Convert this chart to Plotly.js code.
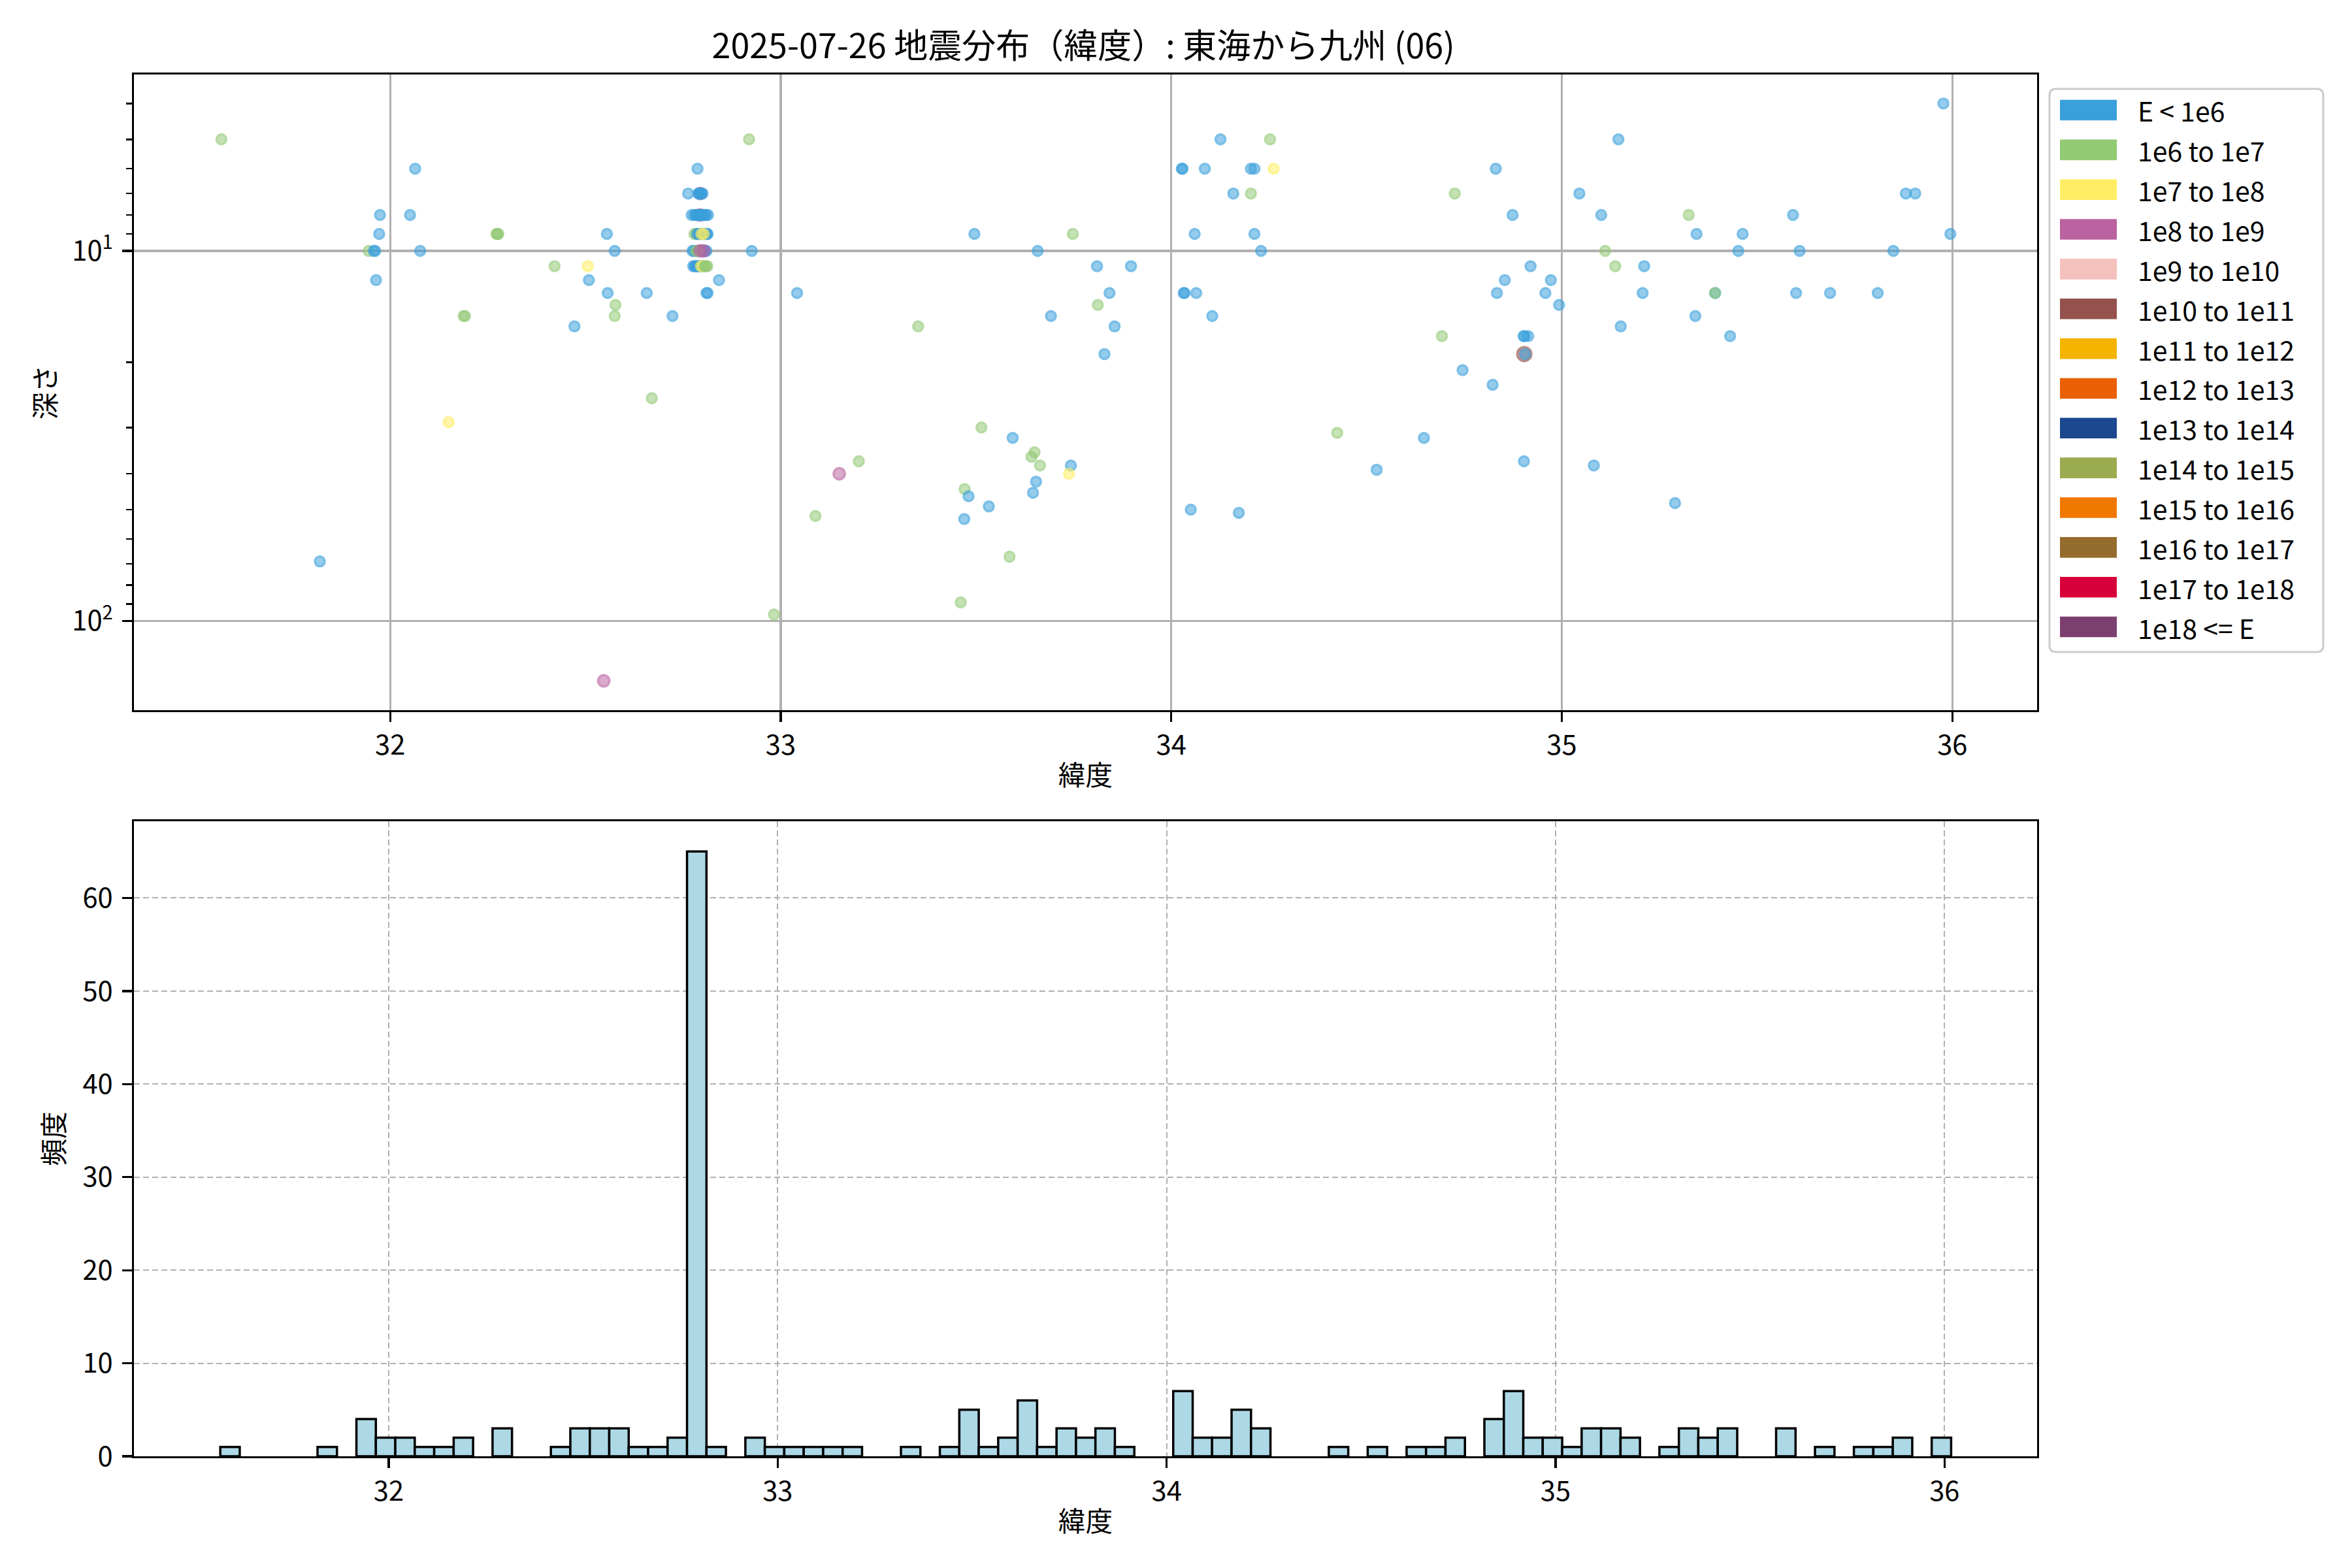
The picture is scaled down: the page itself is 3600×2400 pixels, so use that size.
<!DOCTYPE html>
<html>
<head>
<meta charset="utf-8">
<script src="https://cdn.plot.ly/plotly-3.0.1.min.js"></script>
<style>html,body{margin:0;padding:0;background:#fff;}#chart{width:3600px;height:2400px;}</style>
</head>
<body>
<div id="chart"></div>
<script>
// ---------------- data ----------------
const chartTitle = "2025-07-26 地震分布（緯度）: 東海から九州 (06)";
const xLabel = "緯度";
const yLabelTop = "深さ";
const yLabelBottom = "頻度";

const classLabels = ["E < 1e6","1e6 to 1e7","1e7 to 1e8","1e8 to 1e9","1e9 to 1e10","1e10 to 1e11",
  "1e11 to 1e12","1e12 to 1e13","1e13 to 1e14","1e14 to 1e15","1e15 to 1e16","1e16 to 1e17",
  "1e17 to 1e18","1e18 <= E"];

// latitude of each event
const lat = [
  31.568,31.820,31.945,31.958,31.962,31.964,31.972,31.974,32.051,32.064,32.077,32.150,32.188,32.192,
  32.272,32.275,32.277,32.421,32.472,32.506,32.509,32.547,32.555,32.557,32.575,32.577,32.575,32.657,
  32.670,32.723,32.763,
  // cluster near 32.8
  32.787,
  32.794,32.789,32.792,32.795,32.797,32.800,
  32.793,32.772,32.779,32.783,32.786,32.791,32.794,32.798,32.801,32.806,32.809,32.814,
  32.779,32.784,32.788,32.786,32.791,32.794,32.799,32.802,32.805,32.809,32.811,32.813,32.797,32.803,
  32.774,32.778,32.781,32.786,32.788,32.792,32.796,32.797,32.801,32.805,32.807,32.810,32.783,32.789,32.794,32.803,
  32.776,32.780,32.782,32.785,32.789,32.790,32.794,32.798,32.800,32.796,32.801,32.806,32.809,32.812,
  32.810,32.813,
  // rest
  32.842,32.919,32.926,32.983,33.042,33.089,33.150,33.200,33.352,33.461,33.471,33.481,33.470,33.496,
  33.514,33.533,33.594,33.586,33.650,33.642,33.664,33.654,33.646,33.658,33.692,33.748,33.743,33.738,
  33.810,33.812,33.842,33.855,33.829,33.897,34.027,34.029,34.060,34.032,34.034,34.064,34.050,34.086,
  34.105,34.126,34.159,34.204,34.213,34.204,34.213,34.173,34.253,34.262,34.230,34.425,34.526,34.647,
  34.693,34.726,34.746,34.831,34.834,34.854,34.823,34.874,34.902,34.905,34.914,34.904,34.906,34.903,
  34.920,34.958,34.972,34.993,35.045,35.101,35.111,35.082,35.145,35.137,35.151,35.211,35.207,35.290,
  35.325,35.345,35.342,35.393,35.392,35.463,35.452,35.431,35.592,35.609,35.600,35.687,35.809,35.849,
  35.881,35.905,35.977,35.995
];

// depth (km) of each event
const depth = [
  5,69,10,10,10,12,9,8,8,6,10,29,15,15,
  9,9,9,11,16,11,12,145,9,13,10,14,15,13,
  25,15,7,
  6,
  7,7,7,7,7,7,
  8,8,8,8,8,8,8,8,8,8,8,8,
  9,9,9,9,9,9,9,9,9,9,9,9,9,9,
  10,10,10,10,10,10,10,10,10,10,10,10,10,10,10,10,
  11,11,11,11,11,11,11,11,11,11,11,11,11,11,
  13,13,
  12,5,10,96,13,52,40,37,16,89,44,46,53,9,
  30,49,32,67,35,36,38,42,45,10,15,9,38,40,
  11,14,13,16,19,11,6,6,9,13,13,13,50,6,
  15,5,7,6,6,7,9,51,5,6,10,31,39,32,
  17,7,21,6,13,12,23,8,17,17,17,19,19,37,
  11,13,12,14,7,8,10,38,5,11,16,11,13,48,
  8,9,15,13,13,9,10,17,8,10,13,13,13,10,
  7,7,4,9
];

// energy class index of each event (index into classLabels)
const energyClass = [
  1,0,1,0,0,0,0,0,0,0,0,2,1,1,
  1,1,1,1,0,2,0,3,0,0,0,1,1,0,
  1,0,0,
  0,
  3,0,0,0,0,0,
  3,0,0,0,0,0,0,0,0,0,0,0,
  1,1,1,0,0,0,0,0,0,0,0,0,2,2,
  0,0,0,0,0,0,0,0,0,0,0,0,1,1,3,3,
  0,0,0,0,0,0,0,0,0,2,2,1,1,1,
  0,0,
  0,1,0,1,0,1,3,1,1,1,1,0,0,0,
  1,0,0,1,1,1,1,0,0,0,0,1,0,2,
  0,1,0,0,0,0,0,0,0,0,0,0,0,0,
  0,0,0,0,0,1,0,0,1,2,0,1,0,0,
  1,1,0,0,0,0,0,0,0,0,0,5,0,0,
  0,0,0,0,0,0,1,0,0,1,0,0,0,0,
  1,0,0,0,1,0,0,0,0,0,0,0,0,0,
  0,0,0,0
];

// histogram bins (degrees)
const binStart = 31.567, binEnd = 36.017, binSize = 0.05;

// ---------------- styles ----------------
const classColors = ["#3aa0dc","#93ca76","#ffee63","#bb63a0","#f5c1bd","#95524d","#f5b400",
  "#ea6002","#1b488f","#9bac50","#f07800","#946d2e","#d8003a","#7b4070"];
const classSize = [15,15,15,17.5,18.5,21.5,22,23,24,25,26,27,28,29];

function rgba(hex, a){
  const n = parseInt(hex.slice(1),16);
  return `rgba(${(n>>16)&255},${(n>>8)&255},${n&255},${a})`;
}

const W = 3600, H = 2400;
const FONT = "Noto Sans CJK JP, Noto Sans, DejaVu Sans, sans-serif";
const L = 205, R = 3118, T1 = 114, B1 = 1087, T2 = 1257, B2 = 2229;
const px = v => v / W, py = v => 1 - v / H;

const scatter = {
  type: "scatter", mode: "markers", x: lat, y: depth, xaxis: "x", yaxis: "y",
  showlegend: false, hoverinfo: "skip",
  marker: {
    color: energyClass.map(c => rgba(classColors[c], 0.76)),
    size: energyClass.map(c => classSize[c]),
    line: { color: energyClass.map(c => rgba(classColors[c], 0.92)), width: 3.5 }
  }
};

const hist = {
  type: "histogram", x: lat, xaxis: "x2", yaxis: "y2", showlegend: false,
  xbins: { start: binStart, end: binEnd, size: binSize },
  marker: { color: "#add8e6", line: { color: "#000000", width: 3.5 } }
};

const minorVals = [];
for (let d = 1; d <= 100; d *= 10) for (let k = 2; k <= 9; k++) minorVals.push(k * d);

const axBase = {
  showline: true, mirror: true, linecolor: "#000", linewidth: 3.3,
  ticks: "outside", ticklen: 14.6, tickwidth: 3.3, tickcolor: "#000",
  tickfont: { family: FONT, size: 41.7, color: "#000" },
  zeroline: false, showgrid: true
};

// custom legend
const shapes = [], annotations = [];
const lx0 = 3137, lx1 = 3556, ly0 = 136, ly1 = 998, rr = 10;
shapes.push({
  type: "path", xref: "paper", yref: "paper",
  path: `M${px(lx0+rr)},${py(ly0)} L${px(lx1-rr)},${py(ly0)} Q${px(lx1)},${py(ly0)} ${px(lx1)},${py(ly0+rr)} ` +
        `L${px(lx1)},${py(ly1-rr)} Q${px(lx1)},${py(ly1)} ${px(lx1-rr)},${py(ly1)} ` +
        `L${px(lx0+rr)},${py(ly1)} Q${px(lx0)},${py(ly1)} ${px(lx0)},${py(ly1-rr)} ` +
        `L${px(lx0)},${py(ly0+rr)} Q${px(lx0)},${py(ly0)} ${px(lx0+rr)},${py(ly0)} Z`,
  fillcolor: "rgba(255,255,255,0.8)", line: { color: "#cccccc", width: 3 }
});
const rowY0 = 168.5, rowStep = 60.85, patchH = 31.6;
classLabels.forEach((lab, i) => {
  const cy = rowY0 + i * rowStep;
  shapes.push({ type: "rect", xref: "paper", yref: "paper",
    x0: px(3153), x1: px(3240), y0: py(cy + patchH/2), y1: py(cy - patchH/2),
    fillcolor: classColors[i], line: { width: 0 } });
  annotations.push({ xref: "paper", yref: "paper", x: px(3270), y: py(cy), xanchor: "left", yanchor: "middle",
    text: lab, showarrow: false, font: { family: FONT, size: 41, color: "#000" } });
});

const titleFont = { family: FONT, size: 41.7, color: "#000" };
const layout = {
  width: W, height: H, margin: { l: 0, r: 0, t: 0, b: 0 },
  paper_bgcolor: "#fff", plot_bgcolor: "#fff",
  font: { family: FONT, color: "#000" },
  showlegend: false, bargap: 0,
  title: { text: chartTitle, font: { family: FONT, size: 52, color: "#000" },
    x: 0.4606, xanchor: "center", xref: "paper", y: py(71), yanchor: "middle", yref: "paper" },
  xaxis: Object.assign({}, axBase, {
    domain: [px(L), px(R)], anchor: "y", range: [31.344, 36.217],
    tickvals: [32, 33, 34, 35, 36], gridcolor: "#b0b0b0", gridwidth: 3.3, ticklabelstandoff: 0,
    title: { text: xLabel, font: titleFont, standoff: 8 }
  }),
  yaxis: Object.assign({}, axBase, {
    domain: [py(B1), py(T1)], anchor: "x", type: "log",
    range: [Math.log10(174), Math.log10(3.34)],
    tickvals: [10, 100], ticktext: ["10<sup>1</sup>", "10<sup>2</sup>"],
    gridcolor: "#b0b0b0", gridwidth: 3.3, ticklabelstandoff: 6,
    minor: { tickvals: minorVals, ticks: "outside", ticklen: 8.3, tickwidth: 2.5, tickcolor: "#000", showgrid: false },
    title: { text: yLabelTop, font: titleFont, standoff: 12 }
  }),
  xaxis2: Object.assign({}, axBase, {
    domain: [px(L), px(R)], anchor: "y2", range: [31.345, 36.238],
    tickvals: [32, 33, 34, 35, 36], gridcolor: "#b0b0b0", gridwidth: 2, griddash: "9px,5px", ticklabelstandoff: 0,
    title: { text: xLabel, font: titleFont, standoff: 8 }
  }),
  yaxis2: Object.assign({}, axBase, {
    domain: [py(B2), py(T2)], anchor: "x2", range: [0, 68.25],
    tickvals: [0, 10, 20, 30, 40, 50, 60], gridcolor: "#b0b0b0", gridwidth: 2, griddash: "9px,5px", ticklabelstandoff: 6,
    title: { text: yLabelBottom, font: titleFont, standoff: 16 }
  }),
  shapes: shapes, annotations: annotations
};

Plotly.newPlot("chart", [hist, scatter], layout, { staticPlot: true, displayModeBar: false });
</script>
</body>
</html>
